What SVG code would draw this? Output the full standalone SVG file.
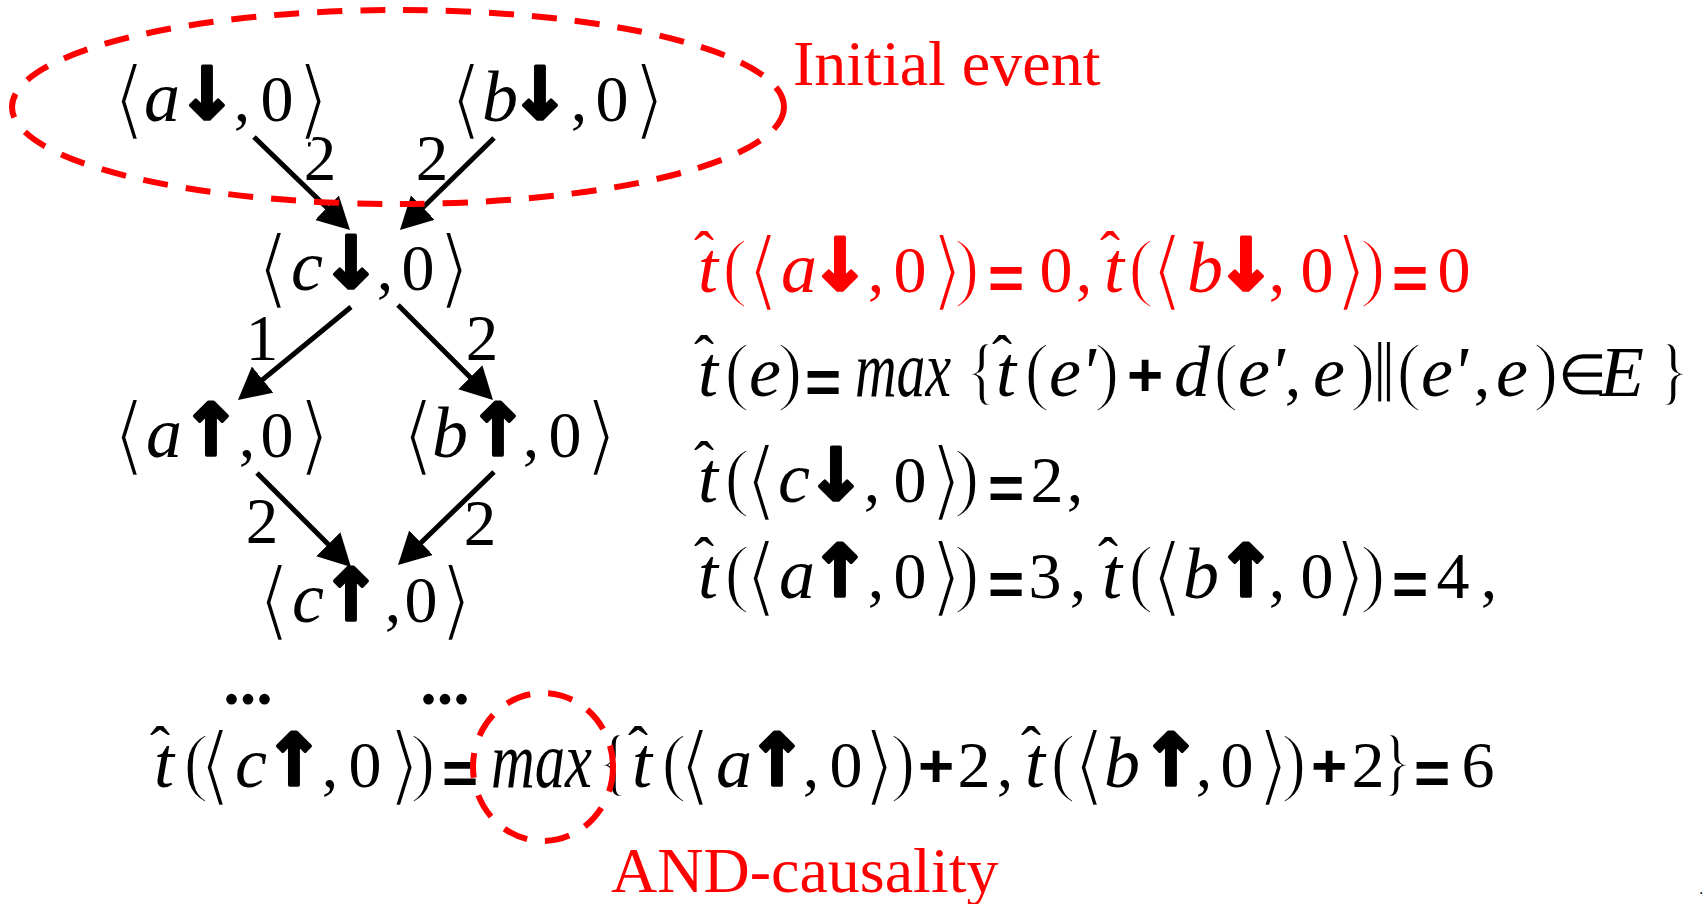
<svg xmlns="http://www.w3.org/2000/svg" width="1703" height="904" viewBox="0 0 1703 904">
<style>
.m{font-family:"Liberation Serif",serif;font-size:66px;text-anchor:middle;fill:#000}
.red{fill:#ff0000}
.i{font-style:italic;font-size:72px}
.ar{font-family:"DejaVu Sans",sans-serif;font-weight:bold;font-size:72px;stroke:#000;stroke-width:3.5;stroke-linejoin:round}
.red .ar{stroke:#ff0000}
.ab{font-family:"DejaVu Sans",sans-serif;font-weight:200;font-size:88px;stroke:#fff;stroke-width:3.5}
.p{font-size:76px;stroke:#fff;stroke-width:2}
.dbar{font-size:86px;stroke:#fff;stroke-width:1}
.el{font-size:56px}
.op{font-family:"Liberation Sans",sans-serif;font-weight:bold;font-size:62px}
.hat{font-size:60px}
.lbl{font-family:"Liberation Serif",serif;font-size:65px;text-anchor:middle}
.edge{stroke:#000;stroke-width:5;fill:none;marker-end:url(#ah)}
.ann{fill:none;stroke:#ff0000;stroke-width:6;stroke-dasharray:25 18}
.note{font-family:"Liberation Serif",serif;font-size:64px;fill:#ff0000}
.dots{font-family:"Liberation Serif",serif;font-weight:bold;font-size:66px;text-anchor:middle}
</style>
<defs>
<marker id="ah" markerUnits="userSpaceOnUse" markerWidth="34" markerHeight="34" refX="22" refY="17" orient="auto">
<path d="M0,0 L32,17 L0,34 z" fill="#000"/>
</marker>
</defs>
<rect width="1703" height="904" fill="#fff"/>

<g id="connectors">
<line class="edge" x1="254" y1="137" x2="342.8" y2="223"/>
<line class="edge" x1="494" y1="138" x2="407.1" y2="223"/>
<line class="edge" x1="351" y1="307" x2="245.7" y2="393.6"/>
<line class="edge" x1="398" y1="305" x2="485.9" y2="392.9"/>
<line class="edge" x1="257" y1="473" x2="343.9" y2="559.9"/>
<line class="edge" x1="494" y1="472" x2="405.2" y2="558"/>
<text class="lbl" x="320" y="180">2</text>
<text class="lbl" x="432" y="180">2</text>
<text class="lbl" x="262" y="360">1</text>
<text class="lbl" x="482" y="360">2</text>
<text class="lbl" x="262" y="543">2</text>
<text class="lbl" x="480" y="545">2</text>
</g>

<g id="node-a-down"><text class="m"><tspan class="ab" x="129" y="129">⟨</tspan><tspan class="i" x="162" y="121">a</tspan><tspan class="ar" x="207" y="119">↓</tspan><tspan x="242" y="121">,</tspan><tspan x="277" y="121">0</tspan><tspan class="ab" x="313" y="129">⟩</tspan></text></g>
<g id="node-b-down"><text class="m"><tspan class="ab" x="466" y="129">⟨</tspan><tspan class="i" x="500" y="121">b</tspan><tspan class="ar" x="540" y="119">↓</tspan><tspan x="579" y="121">,</tspan><tspan x="612" y="121">0</tspan><tspan class="ab" x="649" y="129">⟩</tspan></text></g>
<g id="node-c-down"><text class="m"><tspan class="ab" x="273" y="298">⟨</tspan><tspan class="i" x="307" y="290">c</tspan><tspan class="ar" x="351" y="288">↓</tspan><tspan x="385" y="290">,</tspan><tspan x="418" y="290">0</tspan><tspan class="ab" x="454" y="298">⟩</tspan></text></g>
<g id="node-a-up"><text class="m"><tspan class="ab" x="129" y="465">⟨</tspan><tspan class="i" x="164" y="457">a</tspan><tspan class="ar" x="211" y="455">↑</tspan><tspan x="247" y="457">,</tspan><tspan x="277" y="457">0</tspan><tspan class="ab" x="314" y="465">⟩</tspan></text></g>
<g id="node-b-up"><text class="m"><tspan class="ab" x="418" y="465">⟨</tspan><tspan class="i" x="450" y="457">b</tspan><tspan class="ar" x="498" y="455">↑</tspan><tspan x="531" y="457">,</tspan><tspan x="565" y="457">0</tspan><tspan class="ab" x="601" y="465">⟩</tspan></text></g>
<g id="node-c-up"><text class="m"><tspan class="ab" x="274" y="630">⟨</tspan><tspan class="i" x="308" y="622">c</tspan><tspan class="ar" x="351" y="620">↑</tspan><tspan x="393" y="622">,</tspan><tspan x="421" y="622">0</tspan><tspan class="ab" x="456" y="630">⟩</tspan></text></g>

<g id="dots">
<text class="dots" x="248" y="704">...</text>
<text class="dots" x="445" y="704">...</text>
</g>

<g id="eq1">
<text class="m red"><tspan class="i" x="708" y="292">t</tspan><tspan class="hat" x="704" y="272">ˆ</tspan><tspan class="p" x="735" y="292">(</tspan><tspan class="ab" x="763" y="300">⟨</tspan><tspan class="i" x="799" y="292">a</tspan><tspan class="ar" x="840" y="290">↓</tspan><tspan x="876" y="292">,</tspan><tspan x="910" y="292">0</tspan><tspan class="ab" x="947" y="300">⟩</tspan><tspan class="p" x="967" y="292">)</tspan><tspan class="op" x="1006" y="299">=</tspan><tspan x="1056" y="292">0</tspan><tspan x="1084" y="292">,</tspan><tspan class="i" x="1114" y="292">t</tspan><tspan class="hat" x="1110" y="272">ˆ</tspan><tspan class="p" x="1141" y="292">(</tspan><tspan class="ab" x="1167" y="300">⟨</tspan><tspan class="i" x="1205" y="292">b</tspan><tspan class="ar" x="1246" y="290">↓</tspan><tspan x="1277" y="292">,</tspan><tspan x="1317" y="292">0</tspan><tspan class="ab" x="1351" y="300">⟩</tspan><tspan class="p" x="1373" y="292">)</tspan><tspan class="op" x="1410" y="299">=</tspan><tspan x="1454" y="292">0</tspan></text>
</g>

<g id="eq2">
<text class="m"><tspan class="i" x="708" y="396">t</tspan><tspan class="hat" x="704" y="376">ˆ</tspan><tspan class="p" x="737" y="396">(</tspan><tspan class="i" x="765" y="396">e</tspan><tspan class="p" x="790" y="396">)</tspan><tspan class="op" x="823" y="403">=</tspan><tspan class="p" x="982" y="396">{</tspan><tspan class="i" x="1006" y="396">t</tspan><tspan class="hat" x="1002" y="376">ˆ</tspan><tspan class="p" x="1037" y="396">(</tspan><tspan class="i" x="1065" y="396">e</tspan><tspan class="i" x="1088" y="396">'</tspan><tspan class="p" x="1107" y="396">)</tspan><tspan class="op" x="1145" y="396">+</tspan><tspan class="i" x="1192" y="396">d</tspan><tspan class="p" x="1226" y="396">(</tspan><tspan class="i" x="1254" y="396">e</tspan><tspan class="i" x="1277" y="396">'</tspan><tspan x="1293" y="396">,</tspan><tspan class="i" x="1329" y="396">e</tspan><tspan class="p" x="1363" y="396">)</tspan><tspan class="dbar" x="1384" y="402">‖</tspan><tspan class="p" x="1409" y="396">(</tspan><tspan class="i" x="1437" y="396">e</tspan><tspan class="i" x="1460" y="396">'</tspan><tspan x="1482" y="396">,</tspan><tspan class="i" x="1512" y="396">e</tspan><tspan class="p" x="1546" y="396">)</tspan><tspan class="el" x="1582" y="394">∈</tspan><tspan class="i" x="1622" y="396">E</tspan><tspan class="p" x="1673" y="396">}</tspan></text>
<text class="m i" x="855" y="396" style="text-anchor:start;font-size:80px" textLength="96" lengthAdjust="spacingAndGlyphs">max</text>
</g>

<g id="eq3">
<text class="m"><tspan class="i" x="708" y="502">t</tspan><tspan class="hat" x="704" y="482">ˆ</tspan><tspan class="p" x="737" y="502">(</tspan><tspan class="ab" x="761" y="510">⟨</tspan><tspan class="i" x="794" y="502">c</tspan><tspan class="ar" x="836" y="500">↓</tspan><tspan x="872" y="502">,</tspan><tspan x="910" y="502">0</tspan><tspan class="ab" x="946" y="510">⟩</tspan><tspan class="p" x="967" y="502">)</tspan><tspan class="op" x="1006" y="509">=</tspan><tspan x="1047" y="502">2</tspan><tspan x="1075" y="502">,</tspan></text>
</g>

<g id="eq4">
<text class="m"><tspan class="i" x="708" y="598">t</tspan><tspan class="hat" x="704" y="578">ˆ</tspan><tspan class="p" x="737" y="598">(</tspan><tspan class="ab" x="761" y="606">⟨</tspan><tspan class="i" x="797" y="598">a</tspan><tspan class="ar" x="840" y="596">↑</tspan><tspan x="876" y="598">,</tspan><tspan x="910" y="598">0</tspan><tspan class="ab" x="946" y="606">⟩</tspan><tspan class="p" x="967" y="598">)</tspan><tspan class="op" x="1006" y="605">=</tspan><tspan x="1045" y="598">3</tspan><tspan x="1078" y="598">,</tspan><tspan class="i" x="1112" y="598">t</tspan><tspan class="hat" x="1108" y="578">ˆ</tspan><tspan class="p" x="1141" y="598">(</tspan><tspan class="ab" x="1167" y="606">⟨</tspan><tspan class="i" x="1201" y="598">b</tspan><tspan class="ar" x="1246" y="596">↑</tspan><tspan x="1277" y="598">,</tspan><tspan x="1317" y="598">0</tspan><tspan class="ab" x="1350" y="606">⟩</tspan><tspan class="p" x="1373" y="598">)</tspan><tspan class="op" x="1410" y="605">=</tspan><tspan x="1453" y="598">4</tspan><tspan x="1489" y="598">,</tspan></text>
</g>

<g id="eq5">
<text class="m"><tspan class="i" x="164" y="787">t</tspan><tspan class="hat" x="160" y="767">ˆ</tspan><tspan class="p" x="196" y="787">(</tspan><tspan class="ab" x="215" y="795">⟨</tspan><tspan class="i" x="251" y="787">c</tspan><tspan class="ar" x="294" y="785">↑</tspan><tspan x="330" y="787">,</tspan><tspan x="365" y="787">0</tspan><tspan class="ab" x="404" y="795">⟩</tspan><tspan class="p" x="423" y="787">)</tspan><tspan class="op" x="460" y="794">=</tspan><tspan class="p" x="614" y="787">{</tspan><tspan class="i" x="642" y="787">t</tspan><tspan class="hat" x="638" y="767">ˆ</tspan><tspan class="p" x="674" y="787">(</tspan><tspan class="ab" x="695" y="795">⟨</tspan><tspan class="i" x="734" y="787">a</tspan><tspan class="ar" x="777" y="785">↑</tspan><tspan x="811" y="787">,</tspan><tspan x="846" y="787">0</tspan><tspan class="ab" x="879" y="795">⟩</tspan><tspan class="p" x="903" y="787">)</tspan><tspan class="op" x="936" y="787">+</tspan><tspan x="974" y="787">2</tspan><tspan x="1005" y="787">,</tspan><tspan class="i" x="1035" y="787">t</tspan><tspan class="hat" x="1031" y="767">ˆ</tspan><tspan class="p" x="1063" y="787">(</tspan><tspan class="ab" x="1089" y="795">⟨</tspan><tspan class="i" x="1122" y="787">b</tspan><tspan class="ar" x="1171" y="785">↑</tspan><tspan x="1204" y="787">,</tspan><tspan x="1237" y="787">0</tspan><tspan class="ab" x="1273" y="795">⟩</tspan><tspan class="p" x="1294" y="787">)</tspan><tspan class="op" x="1329" y="787">+</tspan><tspan x="1368" y="787">2</tspan><tspan class="p" x="1396" y="787">}</tspan><tspan class="op" x="1432" y="794">=</tspan><tspan x="1478" y="787">6</tspan></text>
<text class="m i" x="491" y="787" style="text-anchor:start;font-size:80px" textLength="101" lengthAdjust="spacingAndGlyphs">max</text>
</g>

<g id="annotations">
<ellipse class="ann" cx="398" cy="107" rx="386" ry="97"/>
<text class="note" x="793" y="85">Initial event</text>
<ellipse class="ann" cx="543" cy="767" rx="70" ry="74"/>
<text class="note" x="611" y="892">AND-causality</text>
</g>
<text x="1699" y="894" style="font-family:'Liberation Sans',sans-serif;font-size:16px">.</text>
</svg>
